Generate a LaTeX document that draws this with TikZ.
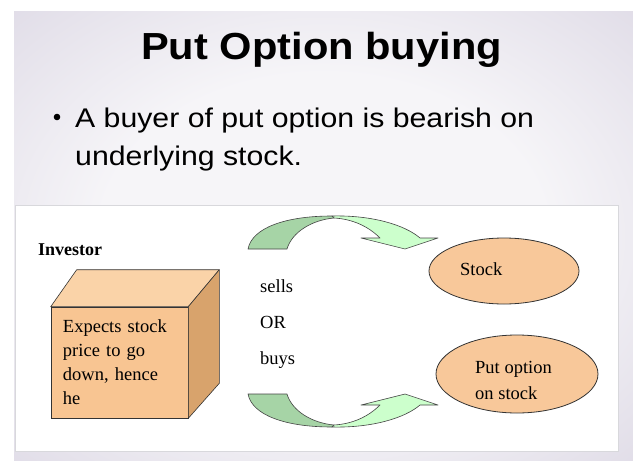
\documentclass[tikz,border=0pt]{standalone}
\usepackage{fontspec}
\usepackage{graphicx}
\setmainfont{Liberation Serif}
\newfontfamily\arialfont{Liberation Sans}
\usetikzlibrary{shapes.geometric}
\definecolor{bgedge}{HTML}{D0CADB}
\definecolor{bgcenter}{HTML}{F6F5F8}
\definecolor{panelline}{HTML}{D8D8DC}
\definecolor{frontface}{HTML}{F8C592}
\definecolor{topface}{HTML}{FAD3A8}
\definecolor{rightface}{HTML}{D8A36C}
\definecolor{ellfill}{HTML}{F8C89A}
\definecolor{edge}{HTML}{333333}
\definecolor{arrdark}{HTML}{A6D4A6}
\definecolor{arrlight}{HTML}{CCFFCC}
\definecolor{arredge}{HTML}{444444}
\pgfdeclareradialshading{slidebg}{\pgfpoint{0bp}{0bp}}{color(0bp)=(bgcenter); color(18bp)=(bgcenter); color(50bp)=(bgedge)}
\tikzset{
  lbl/.style={inner sep=0pt, anchor=base west, font=\fontsize{18.5}{24}\selectfont},
  ell/.style={ellipse, draw=edge, line width=0.8pt, fill=ellfill, inner sep=0pt},
  face/.style={draw=edge, line width=0.6pt, line join=round},
  frontbox/.style={rectangle, draw=edge, line width=0.6pt, fill=frontface,
    minimum height=111pt, inner xsep=12pt, inner ysep=0pt, text width=113pt,
    align=left, font=\fontsize{18.5}{24}\selectfont},
  arrowdark/.style={fill=arrdark, draw=arredge, line width=0.6pt, line join=round},
  arrowlight/.style={fill=arrlight, draw=arredge, line width=0.6pt, line join=round},
}
\begin{document}
\begin{tikzpicture}[x=1pt,y=-1pt]
\useasboundingbox (0,0) rectangle (633,461);
\fill[white] (0,0) rectangle (633,461);
\shade[shading=slidebg] (14,11) rectangle (633,461);
\fill[white, draw=panelline, line width=0.8pt] (15,205) rectangle (618,451);

% title and bullet
\node[inner sep=0pt, anchor=base west] (title) at (141,59)
  {\scalebox{1.104}[1]{\arialfont\bfseries\fontsize{37.7}{40}\selectfont Put Option buying}};
\fill (57,117) circle (3.3);
\node[inner sep=0pt, anchor=base west] (bull1) at (75,127)
  {\scalebox{1.12}[1]{\arialfont\fontsize{27}{38}\selectfont A buyer of put option is bearish on}};
\node[inner sep=0pt, anchor=base west] (bull2) at (75,165)
  {\scalebox{1.12}[1]{\arialfont\fontsize{27}{38}\selectfont underlying stock.}};

% investor box
\node[lbl, font=\fontsize{18}{22}\selectfont\bfseries] (investor) at (38,255) {Investor};
\node[frontbox] (invbox) at (119.5,362.5) {Expects stock\\price to go\\down, hence\\he};
\filldraw[face, fill=topface] (invbox.north west) -- ([shift={(26,-37)}]invbox.north west)
  -- ([shift={(31,-37)}]invbox.north east) -- (invbox.north east) -- cycle;
\filldraw[face, fill=rightface] (invbox.north east) -- ([shift={(31,-37)}]invbox.north east)
  -- ([shift={(31,-35)}]invbox.south east) -- (invbox.south east) -- cycle;

% middle labels
\node[lbl] (sells) at (260,292) {sells};
\node[lbl] (or) at (260,328) {OR};
\node[lbl] (buys) at (260,364) {buys};

% ellipses
\node[ell, minimum width=150pt, minimum height=66pt] (stock) at (504,271) {};
\node[lbl] (stocktxt) at ([shift={(-44,4)}]stock.center) {Stock};
\node[ell, minimum width=162pt, minimum height=78pt] (putopt) at (517,374) {};
\node[lbl] (puttxt1) at ([shift={(-42,-1)}]putopt.center) {Put option};
\node[lbl] (puttxt2) at ([shift={(-42,25)}]putopt.center) {on stock};

% top curved arrow
\filldraw[arrowdark] (248,249) -- (287,249) .. controls (292,232) and (312,220) .. (334,218)
  -- (332,216) .. controls (285,216) and (252,228) .. (248,249) -- cycle;
\filldraw[arrowlight] (332,216) .. controls (372,215) and (405,225) .. (420,238)
  -- (438,238) -- (405,249) -- (361,238) -- (380,238)
  .. controls (368,226) and (352,219) .. (334,218) -- cycle;

% bottom curved arrow
\filldraw[arrowdark] (248,394) -- (287,394) .. controls (292,411) and (312,423) .. (334,425)
  -- (332,427) .. controls (285,427) and (252,415) .. (248,394) -- cycle;
\filldraw[arrowlight] (332,427) .. controls (372,428) and (405,418) .. (420,405)
  -- (438,405) -- (405,394) -- (361,405) -- (380,405)
  .. controls (368,417) and (352,424) .. (334,425) -- cycle;
\end{tikzpicture}
\end{document}
